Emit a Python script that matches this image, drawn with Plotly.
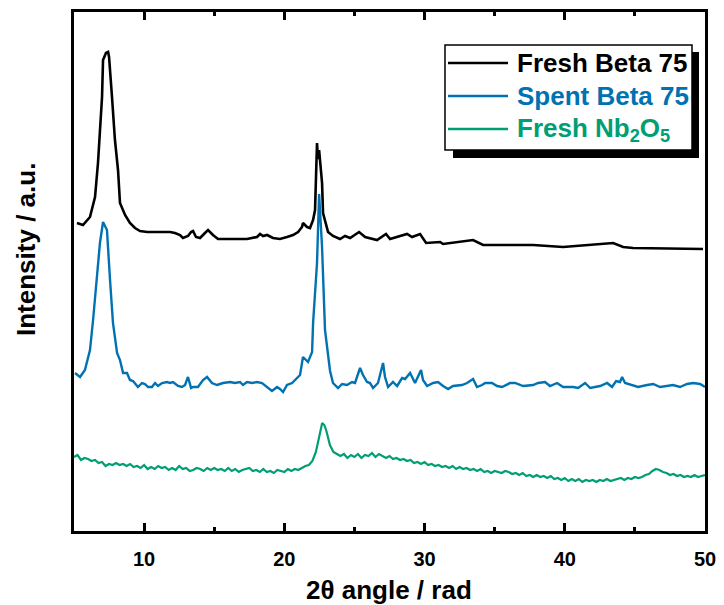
import plotly.graph_objects as go

# ---- data (2theta in degrees, intensity in a.u. with vertical offsets as in figure) ----
fresh_beta_x = [5.21, 5.64, 6.14, 6.50, 6.71, 7.00, 7.07, 7.28, 7.43, 7.50, 7.71, 7.92, 8.14, 8.28, 8.64,
                8.99, 9.35, 9.71, 10.21, 10.63, 11.35, 11.85, 12.20, 12.56, 12.77, 13.13, 13.35, 13.49,
                13.70, 13.99, 14.34, 14.56, 14.91, 15.27, 16.13, 17.34, 18.05, 18.27, 18.48, 18.77, 19.19,
                19.69, 20.19, 20.62, 20.98, 21.26, 21.33, 21.62, 21.83, 22.05, 22.19, 22.26, 22.33, 22.40,
                22.48, 22.69, 22.76, 23.12, 23.47, 23.97, 24.33, 24.69, 25.33, 25.76, 26.61, 27.25, 27.54,
                28.75, 29.11, 29.68, 30.11, 31.11, 31.32, 33.46, 34.17, 36.31, 37.74, 39.88, 43.45, 44.16,
                44.87, 49.86]
fresh_beta_y = [308, 306, 314, 334, 368, 434, 471, 478, 479, 474, 434, 391, 361, 328, 316,
                308, 303, 300, 299, 299, 299, 299, 298, 296, 293, 295, 299, 300,
                294, 293, 298, 301, 296, 292, 292, 292, 294, 297, 295, 296, 293,
                292, 294, 296, 299, 304, 308, 304, 303, 311, 321, 368, 388, 372,
                381, 348, 318, 299, 295, 292, 295, 293, 299, 294, 291, 297, 292,
                297, 294, 297, 288, 289, 287, 291, 286, 286, 286, 284, 288, 284,
                283, 282]

spent_beta_x = [5.07, 5.43, 5.78, 6.14, 6.36, 6.64, 6.85, 7.07, 7.35, 7.57, 7.78, 8.07, 8.28, 8.50, 8.78,
                8.99, 9.21, 9.56, 9.85, 10.06, 10.28, 10.56, 10.78, 10.99, 11.28, 11.63, 11.85, 12.06,
                12.42, 12.70, 12.92, 13.13, 13.35, 13.49, 13.84, 14.20, 14.49, 14.84, 15.20, 15.63, 16.13,
                16.48, 16.84, 17.05, 17.34, 17.70, 18.05, 18.41, 18.77, 19.12, 19.48, 19.69, 19.91, 20.19,
                20.55, 20.91, 21.12, 21.33, 21.69, 21.98, 22.05, 22.33, 22.48, 22.69, 22.90, 23.26, 23.47,
                23.83, 24.12, 24.47, 24.83, 25.04, 25.40, 25.61, 25.90, 26.11, 26.33, 26.68, 27.04, 27.18,
                27.40, 27.75, 28.04, 28.40, 28.61, 28.97, 29.32, 29.75, 29.89, 30.18, 30.61, 30.96, 31.32,
                31.68, 32.03, 32.67, 33.03, 33.46, 33.74, 34.10, 34.32, 34.81, 35.17, 35.53, 36.10, 36.46,
                37.03, 37.74, 38.10, 38.59, 38.95, 39.45, 39.88, 40.59, 40.95, 41.45, 41.81, 42.52, 43.02,
                43.37, 43.66, 43.94, 44.09, 44.30, 44.80, 45.23, 45.87, 46.30, 46.80, 47.30, 47.72, 48.22,
                48.72, 49.15, 49.65, 50.00]
spent_beta_y = [158, 154, 161, 181, 211, 251, 288, 309, 301, 251, 208, 178, 171, 158, 158,
                151, 150, 144, 148, 147, 144, 144, 148, 145, 148, 149, 148, 149,
                145, 144, 146, 154, 143, 144, 144, 151, 154, 148, 146, 148, 149,
                148, 149, 146, 149, 148, 149, 148, 144, 140, 144, 142, 139, 146,
                148, 153, 156, 174, 169, 179, 208, 268, 337, 284, 201, 160, 148,
                143, 147, 146, 149, 148, 163, 156, 149, 148, 143, 148, 168, 154,
                144, 149, 145, 153, 152, 158, 148, 161, 151, 145, 148, 149, 145,
                142, 145, 146, 148, 152, 144, 146, 148, 148, 145, 144, 148, 148,
                145, 146, 148, 149, 145, 148, 144, 144, 143, 148, 143, 145, 148,
                144, 150, 149, 154, 148, 146, 144, 146, 147, 144, 145, 146, 144,
                147, 148, 147, 144]

nb2o5_x = [5.00, 5.25, 5.50, 5.75, 6.00, 6.25, 6.50, 6.75, 7.00, 7.25, 7.50, 7.75, 8.00, 8.25, 8.50,
           8.75, 9.00, 9.25, 9.50, 9.75, 10.00, 10.25, 10.50, 10.75, 11.00, 11.25, 11.50, 11.75, 12.00,
           12.25, 12.50, 12.75, 13.00, 13.25, 13.50, 13.75, 14.00, 14.25, 14.50, 14.75, 15.00, 15.25,
           15.50, 15.75, 16.00, 16.25, 16.50, 16.75, 17.00, 17.25, 17.50, 17.75, 18.00, 18.25, 18.50,
           18.75, 19.00, 19.25, 19.50, 19.75, 20.00, 20.25, 20.50, 20.75, 21.00, 21.25, 21.50, 21.75,
           22.00, 22.25, 22.50, 22.70, 22.85, 23.00, 23.25, 23.50, 23.75, 24.00, 24.25, 24.50, 24.75,
           25.00, 25.25, 25.50, 25.75, 26.00, 26.25, 26.50, 26.75, 27.00, 27.25, 27.50, 27.75, 28.00,
           28.25, 28.50, 28.75, 29.00, 29.25, 29.50, 29.75, 30.00, 30.25, 30.50, 30.75, 31.00, 31.25,
           31.50, 31.75, 32.00, 32.25, 32.50, 32.75, 33.00, 33.25, 33.50, 33.75, 34.00, 34.25, 34.50,
           34.75, 35.00, 35.25, 35.50, 35.75, 36.00, 36.25, 36.50, 36.75, 37.00, 37.25, 37.50, 37.75,
           38.00, 38.25, 38.50, 38.75, 39.00, 39.25, 39.50, 39.75, 40.00, 40.25, 40.50, 40.75, 41.00,
           41.25, 41.50, 41.75, 42.00, 42.25, 42.50, 42.75, 43.00, 43.25, 43.50, 43.75, 44.00, 44.25,
           44.50, 44.75, 45.00, 45.25, 45.50, 45.75, 46.00, 46.25, 46.50, 46.75, 47.00, 47.25, 47.50,
           47.75, 48.00, 48.25, 48.50, 48.75, 49.00, 49.25, 49.50, 49.75, 50.00]
nb2o5_y = [74, 76, 71, 73, 72, 70, 71, 68, 69, 65, 67, 66, 68, 66, 67,
           65, 67, 64, 65, 63, 66, 62, 64, 62, 65, 63, 64, 61, 63,
           61, 65, 62, 63, 60, 61, 63, 62, 60, 63, 61, 63, 61,
           62, 60, 63, 60, 62, 59, 61, 62, 63, 60, 61, 59, 62,
           59, 60, 58, 61, 60, 59, 62, 60, 62, 61, 63, 65, 66,
           70, 79, 97, 108, 106, 100, 86, 79, 77, 75, 77, 73, 76,
           74, 77, 73, 76, 75, 78, 74, 77, 75, 73, 75, 72, 73,
           71, 72, 70, 71, 68, 69, 67, 69, 66, 67, 65, 66, 64,
           65, 63, 65, 62, 64, 62, 63, 61, 62, 60, 62, 59, 60,
           58, 60, 59, 58, 60, 59, 57, 58, 56, 58, 55, 56, 54,
           56, 54, 55, 53, 55, 52, 53, 51, 53, 50, 52, 50, 52,
           49, 51, 50, 51, 49, 51, 50, 52, 50, 51, 52, 53, 51,
           53, 52, 54, 53, 54, 56, 57, 60, 62, 61, 59, 58, 56,
           57, 55, 56, 54, 55, 54, 56, 54, 55, 56]

series_names = ["Fresh Beta 75", "Spent Beta 75", "Fresh Nb<sub>2</sub>O<sub>5</sub>"]
series_colors = ["#000000", "#0072B2", "#009E73"]
x_ticks = [10, 20, 30, 40, 50]
x_title = "2θ angle / rad"
y_title = "Intensity / a.u."

FONT = "Liberation Sans, Arial, sans-serif"

fig = go.Figure()
for xs, ys, name, col, w in [
    (fresh_beta_x, fresh_beta_y, series_names[0], series_colors[0], 2.6),
    (spent_beta_x, spent_beta_y, series_names[1], series_colors[1], 2.4),
    (nb2o5_x, nb2o5_y, series_names[2], series_colors[2], 2.2),
]:
    fig.add_trace(go.Scatter(x=xs, y=ys, mode="lines", name=name,
                             line=dict(color=col, width=w), showlegend=False))

# ---- manual legend (box with drop shadow) ----
def px2p(px, py):
    return (px - 74) / 631.0, (531 - py) / 519.0

shapes = []
sx0, sy0 = px2p(453, 52)
sx1, sy1 = px2p(699, 158)
shapes.append(dict(type="rect", xref="paper", yref="paper", x0=sx0, x1=sx1, y0=sy1, y1=sy0,
                   fillcolor="black", line=dict(width=0)))
bx0, by0 = px2p(445, 45)
bx1, by1 = px2p(692, 150)
shapes.append(dict(type="rect", xref="paper", yref="paper", x0=bx0, x1=bx1, y0=by1, y1=by0,
                   fillcolor="white", line=dict(color="black", width=1.5)))
annotations = []
rows = [63, 96, 129]
for name, col, py in zip(series_names, series_colors, rows):
    lx0, ly = px2p(448, py)
    lx1, _ = px2p(508, py)
    shapes.append(dict(type="line", xref="paper", yref="paper", x0=lx0, x1=lx1, y0=ly, y1=ly,
                       line=dict(color=col, width=2.5)))
    tx, _ = px2p(515, py)
    annotations.append(dict(xref="paper", yref="paper", x=tx, y=ly, xanchor="left", yanchor="middle",
                            text="<b>" + name + "</b>", showarrow=False,
                            font=dict(family=FONT, size=26, color=col)))

# axis titles as annotations (fixed positions below / left of the frame)
tx, ty = px2p(389, 590)
annotations.append(dict(xref="paper", yref="paper", x=tx, y=ty, xanchor="center", yanchor="middle",
                        text="<b>" + x_title + "</b>", showarrow=False,
                        font=dict(family=FONT, size=26, color="black")))
tx, ty = px2p(26, 250)
annotations.append(dict(xref="paper", yref="paper", x=tx, y=ty, xanchor="center", yanchor="middle",
                        text="<b>" + y_title + "</b>", showarrow=False, textangle=-90,
                        font=dict(family=FONT, size=26, color="black")))

fig.update_layout(
    width=724, height=605,
    margin=dict(l=74, r=19, t=12, b=74, autoexpand=False),
    paper_bgcolor="white", plot_bgcolor="white",
    shapes=shapes, annotations=annotations,
    xaxis=dict(range=[5, 50], tickvals=x_ticks, ticktext=[str(t) for t in x_ticks],
               ticks="inside", ticklen=8, tickwidth=2.5, tickcolor="black",
               minor=dict(tickvals=[15, 25, 35, 45], ticks="inside", ticklen=4, tickwidth=2.5,
                          tickcolor="black", showgrid=False),
               showline=True, linewidth=3, linecolor="black", mirror="ticks",
               showgrid=False, zeroline=False, ticklabelstandoff=8, automargin=False,
               tickfont=dict(family=FONT, size=20, color="black", weight="bold")),
    yaxis=dict(range=[0, 519], showticklabels=False, ticks="", automargin=False,
               showline=True, linewidth=3, linecolor="black", mirror=True,
               showgrid=False, zeroline=False),
)

fig.write_html("out.html")
